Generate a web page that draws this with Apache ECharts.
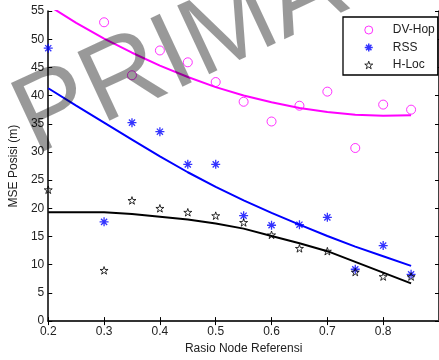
<!DOCTYPE html>
<html><head><meta charset="utf-8">
<script src="https://cdn.jsdelivr.net/npm/echarts@6/dist/echarts.min.js"></script>
<style>html,body{margin:0;padding:0;background:#fff}#c{width:439px;height:360px}</style>
</head><body><div id="c"></div>
<script>
// ---- data ----
const pointX = [0.2, 0.3, 0.35, 0.4, 0.45, 0.5, 0.55, 0.6, 0.65, 0.7, 0.75, 0.8, 0.85];
const dvHopPts = [null, 53.0, 43.6, 48.0, 45.9, 42.4, 38.9, 35.4, 38.2, 40.7, 30.7, 38.4, 37.5];
const rssPts   = [48.4, 17.6, 35.2, 33.6, 27.8, 27.8, 18.7, 17.0, 17.1, 18.4, 9.2, 13.4, 8.3];
const hlocPts  = [23.3, 9.0, 21.4, 20.0, 19.3, 18.7, 17.5, 15.3, 12.9, 12.4, 8.7, 7.9, 7.9];

const fitX = [0.2, 0.25, 0.3, 0.35, 0.4, 0.45, 0.5, 0.55, 0.6, 0.65, 0.7, 0.75, 0.8, 0.85];
const dvHopFit = [56.0, 52.9, 50.1, 47.6, 45.3, 43.3, 41.5, 40.0, 38.8, 37.8, 37.1, 36.6, 36.4, 36.5];
const rssFit   = [41.3, 38.2, 35.2, 32.2, 29.2, 26.4, 23.8, 21.4, 19.2, 17.1, 15.1, 13.2, 11.5, 9.8];
const hlocFit  = [19.3, 19.3, 19.3, 19.0, 18.5, 18.0, 17.3, 16.4, 15.1, 13.8, 12.4, 10.5, 8.6, 6.7];

const seriesNames = ['DV-Hop', 'RSS', 'H-Loc'];
const xName = 'Rasio Node Referensi';
const yName = 'MSE Posisi (m)';
const watermark = 'PRIMA';

// ---- build ----
const FONT = '"Liberation Sans", Arial, sans-serif';
const ASTERISK = 'path://M5,0L5,10M0,5L10,5M1.6,1.6L8.4,8.4M8.4,1.6L1.6,8.4';
const STAR = 'path://M50,0L61.23,34.55L97.55,34.55L68.17,55.9L79.39,90.45L50,69.1L20.61,90.45L31.83,55.9L2.45,34.55L38.77,34.55Z';
const pairs = (xs, ys) => xs.map((x, i) => [x, ys[i]]).filter(p => p[1] != null);

const colors = ['#ff00ff', '#0000ff', '#000000'];
const symbols = ['circle', ASTERISK, STAR];
const sizes = [9, 9, 8];
const pts = [dvHopPts, rssPts, hlocPts];
const fits = [dvHopFit, rssFit, hlocFit];

const series = [];
fits.forEach((f, i) => {
  series.push({
    type: 'line', name: seriesNames[i] + ' fit', data: pairs(fitX, f),
    showSymbol: false, smooth: false, clip: true,
    lineStyle: { color: colors[i], width: 2 }, itemStyle: { color: colors[i] },
    z: 2, silent: true
  });
});
pts.forEach((p, i) => {
  series.push({
    type: 'scatter', name: seriesNames[i], data: pairs(pointX, p),
    symbol: symbols[i], symbolSize: sizes[i], symbolKeepAspect: true,
    itemStyle: { color: 'transparent', borderColor: colors[i], borderWidth: i === 1 ? 1.3 : 1 },
    z: 3, clip: true
  });
});

const axisLineStyle = { color: '#000', width: 1.5 };
const option = {
  animation: false,
  backgroundColor: '#fff',
  textStyle: { fontFamily: FONT },
  grid: { left: 42, top: 11, width: 400, height: 315, containLabel: false },
  xAxis: [{
    type: 'value', min: 0.2, max: 0.9, interval: 0.1, position: 'bottom',
    axisLine: { lineStyle: axisLineStyle },
    axisTick: { inside: true, length: 4, lineStyle: { color: '#000' } },
    axisLabel: { margin: 5, fontSize: 12, color: '#222', fontFamily: FONT, showMaxLabel: false,
      formatter: v => (Math.round(v * 10) / 10).toFixed(1) },
    splitLine: { show: false },
    name: xName, nameLocation: 'middle', nameGap: 19,
    nameTextStyle: { fontSize: 12, color: '#222', fontFamily: FONT }
  }, {
    type: 'value', min: 0.2, max: 0.9, interval: 0.1, position: 'top',
    axisLine: { lineStyle: { color: '#333', width: 2 } },
    axisTick: { inside: true, length: 4, lineStyle: { color: '#000' } },
    axisLabel: { show: false }, splitLine: { show: false }
  }],
  yAxis: [{
    type: 'value', min: 0, max: 55, interval: 5, position: 'left',
    axisLine: { lineStyle: axisLineStyle },
    axisTick: { inside: true, length: 4, lineStyle: { color: '#000' } },
    axisLabel: { margin: 4, fontSize: 12, color: '#222', fontFamily: FONT },
    splitLine: { show: false },
    name: yName, nameLocation: 'middle', nameGap: 25, nameRotate: 90,
    nameTextStyle: { fontSize: 12, color: '#222', fontFamily: FONT }
  }, {
    type: 'value', min: 0, max: 55, interval: 5, position: 'right',
    axisLine: { lineStyle: axisLineStyle },
    axisTick: { inside: true, length: 4, lineStyle: { color: '#000' } },
    axisLabel: { show: false }, splitLine: { show: false }
  }],
  legend: {
    orient: 'vertical', left: 343, top: 17,
    padding: [7, 3, 4, 21], itemGap: 5.5, itemWidth: 8, itemHeight: 8,
    borderColor: '#000', borderWidth: 1.3, backgroundColor: '#fff',
    textStyle: { fontSize: 12, color: '#222', fontFamily: FONT, padding: [0, 0, 0, 15] },
    data: seriesNames.map((n, i) => ({
      name: n, icon: symbols[i],
      itemStyle: { color: 'transparent', borderColor: colors[i], borderWidth: i === 1 ? 1.5 : 1 }
    }))
  },
  series: series,
  graphic: [{
    type: 'text', x: 22, y: 128, rotation: 25 * Math.PI / 180, z: 100, silent: true,
    style: { text: watermark, font: '110px ' + FONT, fill: 'rgba(0,0,0,0.4)',
      textAlign: 'left', textVerticalAlign: 'middle' }
  }]
};
const chart = echarts.init(document.getElementById('c'));
chart.setOption(option);
</script>
</body></html>
